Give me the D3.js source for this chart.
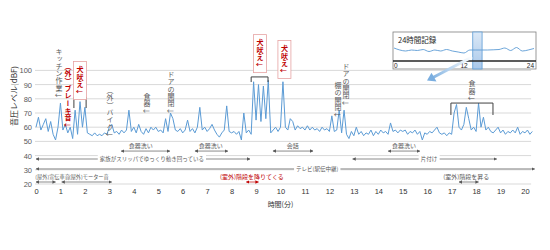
<!DOCTYPE html>
<html lang="ja">
<head>
<meta charset="utf-8">
<title>音圧レベル</title>
<script src="https://d3js.org/d3.v7.min.js"></script>
<style>
body { margin: 0; background: #fff; }
text { font-family: "Noto Sans CJK JP", "Noto Sans", sans-serif; }
.num { font-family: "Liberation Sans", Arial, sans-serif; }
.vt { writing-mode: vertical-rl; }
</style>
</head>
<body>
<div id="chart"></div>
<script>
// sound level, one reading every 0.1 minute
var step = 0.1;
var levels = [
  60,67,58,62,66,57,64,55,51,60, 77,58,62,56,60,52,72,55,78,60,
  74,56,55,54,56,54,55,54,56,55, 60,62,56,57,55,58,56,58,72,57,
  60,56,62,57,55,59,56,60,58,60, 57,58,56,66,57,70,66,58,57,59,
  56,58,65,57,59,56,60,74,58,60, 57,59,62,58,55,53,56,58,75,57,
  56,57,55,57,51,70,56,58,55,92, 65,90,64,89,66,93,56,58,60,57,
  60,92,60,58,66,64,58,61,59,60, 58,61,58,60,58,59,57,60,58,59,
  57,68,57,58,72,56,72,55,52,57, 54,60,55,57,54,56,55,58,54,57,
  55,58,56,57,55,63,57,58,56,58, 57,58,55,57,56,58,55,57,51,56,
  55,57,56,58,60,56,55,56,54,56, 55,70,76,60,58,62,74,66,58,60,
  57,77,60,67,58,60,57,56,58,60, 56,58,55,57,56,58,56,60,55,57,
  56,58,55,57
];
var yTicks = [20, 30, 40, 50, 60, 70, 80, 90, 100];
var xTicks = [0,1,2,3,4,5,6,7,8,9,10,11,12,13,14,15,16,17,18,19,20];

// vertical notes above the trace: minute, top (dB), text
var notes = [
  { t: 0.94, top: 115.8, text: "キッチン作業↓", red: false },
  { t: 1.31, top: 105.2, text: "（外）ブレーキ音↓", red: true },
  { t: 1.80, top: 106.2, text: "犬吠え↓", red: true, box: true },
  { t: 3.03, top: 88.3, text: "（外）バイク↓", red: false },
  { t: 4.54, top: 84.1, text: "食器↓", red: false },
  { t: 5.52, top: 99.6, text: "ドアの開閉↓", red: false },
  { t: 9.16, top: 125.2, text: "犬吠え↓", red: true, box: true },
  { t: 10.16, top: 121.0, text: "犬吠え↓", red: true, box: true },
  { t: 12.35, top: 91.8, text: "棚の開閉↓", red: false },
  { t: 12.68, top: 105.2, text: "ドアの開閉↓", red: false },
  { t: 17.83, top: 93.2, text: "食器↓", red: false }
];
// brackets over groups of peaks: from, to, level, tick end
var brackets = [
  { from: 1.55, to: 2.05, at: 81.3, end: 73.5 },
  { from: 8.80, to: 9.49, at: 95.4, end: 91.8 },
  { from: 16.97, to: 18.69, at: 77.0, end: 68.6 }
];
// activity spans below the trace
var spans = [
  { from: 3.48, to: 5.48, at: 43.2, text: "食器洗い", mid: 4.28 },
  { from: 6.50, to: 7.85, at: 43.2, text: "食器洗い", mid: 7.15 },
  { from: 9.69, to: 11.33, at: 43.2, text: "会話", mid: 10.5 },
  { from: 14.40, to: 15.70, at: 43.2, text: "食器洗い", mid: 15.05 },
  { from: 0, to: 8.75, at: 37.6, text: "家族がスリッパでゆっくり動き回っている", mid: 4.74, inline: true },
  { from: 12.95, to: 18.85, at: 37.6, text: "片付け", mid: 16.07, inline: true },
  { from: 0, to: 20.4, at: 30.6, text: "テレビ(駅伝中継)", mid: 11.5, inline: true },
  { from: 0, to: 0.8, at: 21.4, text: "(屋外)宣伝車音", mid: 0.68, small: true },
  { from: 1.05, to: 3.1, at: 21.4, text: "(屋外)モーター音", mid: 2.16, small: true },
  { from: 8.60, to: 9.10, at: 21.4, text: "(室外)階段を降りてくる", mid: 8.83, red: true },
  { from: 17.3, to: 18.1, at: 21.4, text: "(室外)階段を昇る", mid: 17.6 }
];

// 24 hour overview in the inset
var dayHours = [0,1,2,3,4,5,6,7,8,9,10,11,12,13,14,15,16,17,18,19,20,21,22,23,24];
var dayLevels = [8,6,5,6,5.5,6.5,4.5,6,5,6.5,5,4,3,6,6,6,6,6.2,6.5,8,5.5,8.5,5,6,7.5];
var dayTicks = [0, 12, 24];
var dayWindow = [13.5, 15.1];

var width = 550, height = 250;
var grey = "#595959", red = "#c00000", blue = "#5b9bd5";

var svg = d3.select("#chart").append("svg")
  .attr("width", width)
  .attr("height", height);

var x = d3.scaleLinear().domain([0, 20]).range([36, 525]);
var y = d3.scaleLinear().domain([20, 100]).range([184, 70.4]);

var defs = svg.append("defs");
function marker(id, color) {
  defs.append("marker")
    .attr("id", id)
    .attr("viewBox", "0 0 10 10")
    .attr("refX", 9).attr("refY", 5)
    .attr("markerUnits", "userSpaceOnUse")
    .attr("markerWidth", 3.5).attr("markerHeight", 3.5)
    .attr("orient", "auto-start-reverse")
    .append("path")
    .attr("d", "M0,0L10,5L0,10z")
    .attr("fill", color);
}
marker("ag", grey);
marker("ar", red);

// grid
svg.append("g").selectAll("line")
  .data(yTicks)
  .enter().append("line")
  .attr("x1", x(0) - 1).attr("x2", x(20.25))
  .attr("y1", function(d) { return y(d); })
  .attr("y2", function(d) { return y(d); })
  .attr("stroke", "#d9d9d9")
  .attr("stroke-width", 1);

// axes
var yAxis = svg.append("g")
  .attr("transform", "translate(" + (x(0) - 1) + ",0)")
  .call(d3.axisLeft(y).tickValues(yTicks).tickSize(0).tickPadding(3));
yAxis.select(".domain").remove();
yAxis.selectAll("text").attr("class", "num").attr("font-size", 7.5).attr("fill", grey);

var xAxis = svg.append("g")
  .attr("transform", "translate(0," + y(20) + ")")
  .call(d3.axisBottom(x).tickValues(xTicks).tickSize(0).tickPadding(5));
xAxis.select(".domain").remove();
xAxis.selectAll("text").attr("class", "num").attr("font-size", 7.5).attr("fill", "#333");

svg.append("text")
  .attr("transform", "translate(13," + y(82) + ") rotate(-90)")
  .attr("text-anchor", "middle")
  .attr("dominant-baseline", "central")
  .attr("font-size", 8)
  .attr("fill", "#333")
  .text("音圧レベル(dBF)");

svg.append("text")
  .attr("x", x(10)).attr("y", 207)
  .attr("text-anchor", "middle")
  .attr("font-size", 7)
  .attr("fill", "#333")
  .text("時間(分)");

// trace
var line = d3.line()
  .x(function(d, i) { return x(i * step); })
  .y(function(d) { return y(d); });

svg.append("path")
  .datum(levels)
  .attr("d", line)
  .attr("fill", "none")
  .attr("stroke", blue)
  .attr("stroke-width", 1)
  .attr("stroke-linejoin", "round");

// brackets
svg.append("g").selectAll("path")
  .data(brackets)
  .enter().append("path")
  .attr("d", function(d) {
    return "M" + x(d.from) + "," + y(d.end) + "V" + y(d.at) + "H" + x(d.to) + "V" + y(d.end);
  })
  .attr("fill", "none")
  .attr("stroke", "#404040")
  .attr("stroke-width", 1);

// vertical notes
var ng = svg.append("g").selectAll("g")
  .data(notes)
  .enter().append("g");

ng.filter(function(d) { return d.box; })
  .append("rect")
  .attr("x", function(d) { return x(d.t) - 6.5; })
  .attr("y", function(d) { return y(d.top); })
  .attr("width", 13)
  .attr("height", 38)
  .attr("fill", "#fff")
  .attr("stroke", "#e6a3a3")
  .attr("stroke-width", 0.8);

ng.append("text")
  .attr("class", "vt")
  .attr("x", function(d) { return x(d.t); })
  .attr("y", function(d) { return y(d.top) + (d.box ? 4.5 : 0); })
  .attr("font-size", 7)
  .attr("letter-spacing", 0.3)
  .attr("font-weight", function(d) { return d.red ? "bold" : "normal"; })
  .attr("fill", function(d) { return d.red ? red : grey; })
  .text(function(d) { return d.text; });

// spans
var sg = svg.append("g").selectAll("g")
  .data(spans)
  .enter().append("g");

sg.append("line")
  .attr("x1", function(d) { return x(d.from); })
  .attr("x2", function(d) { return x(d.to); })
  .attr("y1", function(d) { return y(d.at); })
  .attr("y2", function(d) { return y(d.at); })
  .attr("stroke", function(d) { return d.red ? red : grey; })
  .attr("stroke-width", 0.7)
  .attr("marker-start", function(d) { return d.red ? "url(#ar)" : "url(#ag)"; })
  .attr("marker-end", function(d) { return d.red ? "url(#ar)" : "url(#ag)"; });

sg.each(function(d) {
  var g = d3.select(this);
  var t = g.append("text")
    .attr("x", x(d.mid))
    .attr("y", d.inline ? y(d.at) : y(d.at) - 3)
    .attr("dy", d.inline ? "0.35em" : 0)
    .attr("text-anchor", "middle")
    .attr("font-size", d.small ? 5.2 : (d.inline ? 5.5 : 6))
    .attr("fill", d.red ? red : grey)
    .text(d.text);
  if (d.inline) {
    var b = t.node().getBBox();
    g.insert("rect", "text")
      .attr("x", b.x - 2).attr("y", b.y)
      .attr("width", b.width + 4).attr("height", b.height)
      .attr("fill", "#fff");
  }
});

// inset: whole day
var xi = d3.scaleLinear().domain([0, 24]).range([394, 534]);
var yi = d3.scaleLinear().domain([0, 10]).range([56, 46]);
var inset = svg.append("g");

inset.append("rect")
  .attr("x", 393).attr("y", 32)
  .attr("width", 143).attr("height", 37)
  .attr("fill", "#fff")
  .attr("stroke", "#7f7f7f")
  .attr("stroke-width", 0.8);

var hiGrad = defs.append("linearGradient").attr("id", "hi").attr("x1", 0).attr("x2", 0).attr("y1", 0).attr("y2", 1);
hiGrad.append("stop").attr("offset", 0).attr("stop-color", "#dbe8f6");
hiGrad.append("stop").attr("offset", 1).attr("stop-color", "#a9c8ea");

inset.append("rect")
  .attr("x", xi(dayWindow[0])).attr("y", 32)
  .attr("width", xi(dayWindow[1]) - xi(dayWindow[0]))
  .attr("height", 37)
  .attr("fill", "url(#hi)")
  .attr("stroke", blue)
  .attr("stroke-width", 0.8);

inset.append("path")
  .datum(dayLevels)
  .attr("d", d3.line()
    .x(function(d, i) { return xi(dayHours[i]); })
    .y(function(d) { return yi(d); })
    .curve(d3.curveMonotoneX))
  .attr("fill", "none")
  .attr("stroke", blue)
  .attr("stroke-width", 0.9);

inset.append("line")
  .attr("x1", 393).attr("x2", 536)
  .attr("y1", 61).attr("y2", 61)
  .attr("stroke", "#262626")
  .attr("stroke-width", 1.5);

inset.selectAll(".dt")
  .data(dayTicks)
  .enter().append("text")
  .attr("class", "num")
  .attr("x", function(d) { return xi(d); })
  .attr("y", 68)
  .attr("text-anchor", function(d) { return d === 0 ? "start" : (d === 24 ? "end" : "middle"); })
  .attr("font-size", 6.5)
  .attr("fill", "#262626")
  .text(function(d) { return d; });

inset.append("text")
  .attr("x", 398).attr("y", 42.5)
  .attr("font-size", 7.5)
  .attr("fill", "#262626")
  .text("24時間記録");

// pointer from inset window to the chart
var arGrad = defs.append("linearGradient")
  .attr("id", "pg")
  .attr("gradientUnits", "userSpaceOnUse")
  .attr("x1", 472).attr("y1", 57).attr("x2", 430).attr("y2", 79);
arGrad.append("stop").attr("offset", 0).attr("stop-color", "#ffffff");
arGrad.append("stop").attr("offset", 1).attr("stop-color", "#7aaee0");

svg.append("line")
  .attr("x1", 472).attr("y1", 57)
  .attr("x2", 433).attr("y2", 77.5)
  .attr("stroke", "url(#pg)")
  .attr("stroke-width", 3);
svg.append("path")
  .attr("d", "M427,80.5L431.5,72.8L436.5,81.5Z")
  .attr("fill", "#7aaee0");
</script>
</body>
</html>
